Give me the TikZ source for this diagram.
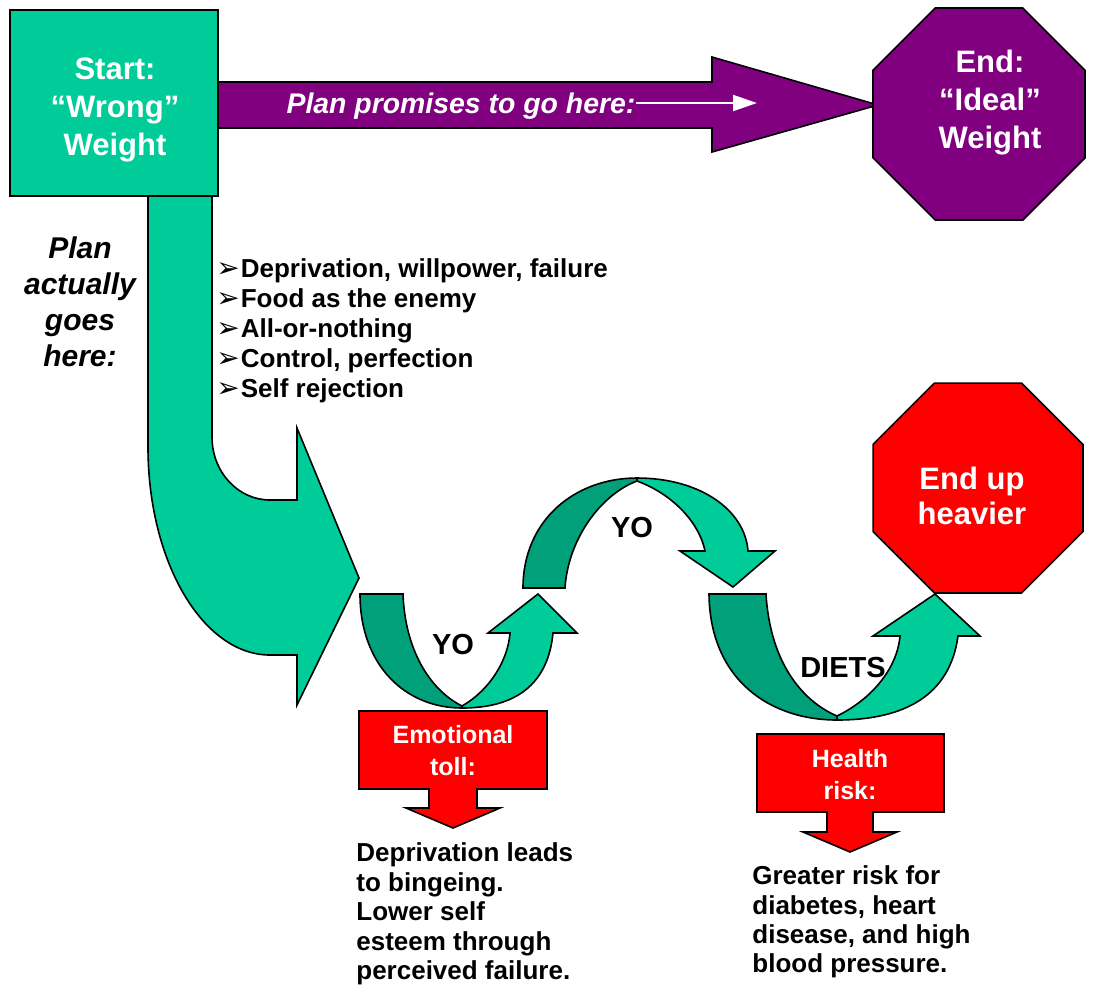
\documentclass[tikz,border=0pt]{standalone}
\usepackage{fontspec}
\setmainfont{Liberation Sans}
\newfontfamily\dingfont{DejaVu Sans}
\usetikzlibrary{arrows.meta,shapes.geometric}
\definecolor{mint}{RGB}{0,204,153}
\definecolor{deepmint}{RGB}{0,160,122}
\definecolor{plum}{RGB}{128,0,128}
\definecolor{alarm}{RGB}{255,0,0}
\newcommand{\pick}{{\dingfont\fontsize{14}{15}\selectfont ➢}\hspace{0.5pt}}

\begin{document}
\begin{tikzpicture}[x=0.5pt,y=-0.5pt,
    outline/.style={draw=black,line width=0.8pt,line join=miter},
    octa/.style={outline,regular polygon,regular polygon sides=8,inner sep=0pt},
    whitetxt/.style={inner sep=0pt,align=center,text=white},
    blacktxt/.style={inner sep=0pt,align=left,text=black},
    headfont/.style={font=\bfseries\fontsize{15.5}{19}\selectfont},
    tollfont/.style={font=\bfseries\fontsize{12.5}{16}\selectfont},
    bodyfont/.style={font=\bfseries\fontsize{13}{14.7}\selectfont},
    yofont/.style={font=\bfseries\fontsize{14.5}{17}\selectfont}]
  \useasboundingbox (0,0) rectangle (1104,987);

  \draw[outline,fill=mint] (148,196) -- (212,196) -- (212,437)
    .. controls (212,472) and (238,500) .. (270,500) -- (297,500) -- (297,428)
    -- (359,578) -- (297,705) -- (297,655) -- (270,655)
    .. controls (203,655) and (148,562) .. (148,447) -- cycle;
  \draw[outline,fill=plum] (218,82) -- (712,82) -- (712,57) -- (878,105)
    -- (712,152) -- (712,128) -- (218,128) -- cycle;
  \draw[outline,fill=mint] (10,10) rectangle (218,196);
  \node[octa,fill=plum,minimum size=114.7pt] (ideal) at (979,114) {};
  \node[octa,fill=alarm,minimum size=113.6pt] (heavier) at (978,488) {};

  \draw[outline,fill=deepmint] (360,594) -- (403,594)
    .. controls (405,650) and (430,690) .. (462,706) -- (462,708)
    .. controls (405,708) and (360,665) .. (360,594) -- cycle;
  \draw[outline,fill=mint] (462,706) .. controls (490,690) and (508,660) .. (510,633)
    -- (488,633) -- (538,594) -- (577,633) -- (553,633)
    .. controls (548,685) and (515,708) .. (462,708) -- cycle;

  \draw[outline,fill=deepmint] (523,588) .. controls (523,520) and (575,478) .. (637,478)
    -- (637,481) .. controls (600,495) and (568,540) .. (565,588) -- cycle;
  \draw[outline,fill=mint] (637,478) .. controls (700,478) and (745,510) .. (748,551)
    -- (775,551) -- (733,587) -- (680,551) -- (705,551)
    .. controls (700,525) and (675,495) .. (637,481) -- cycle;

  \draw[outline,fill=deepmint] (709,594) -- (766,594)
    .. controls (770,660) and (800,700) .. (837,716) -- (837,720)
    .. controls (770,720) and (710,680) .. (709,594) -- cycle;
  \draw[outline,fill=mint] (837,716) .. controls (870,700) and (897,670) .. (900,636)
    -- (873,636) -- (935,594) -- (980,636) -- (958,636)
    .. controls (950,695) and (905,720) .. (837,720) -- cycle;

  \draw[outline,fill=alarm] (359,711) -- (547,711) -- (547,789) -- (477,789)
    -- (477,808) -- (500,808) -- (453,828) -- (406,808) -- (429,808)
    -- (429,789) -- (359,789) -- cycle;
  \draw[outline,fill=alarm] (757,734) -- (944,734) -- (944,812) -- (873,812)
    -- (873,832) -- (897,832) -- (850,852) -- (803,832) -- (827,832)
    -- (827,812) -- (757,812) -- cycle;

  \node[whitetxt,headfont] (start) at (115,110) {Start:\\“Wrong”\\Weight};
  \node[whitetxt,headfont] (idealtxt) at (990,103) {End:\\“Ideal”\\Weight};
  \node[whitetxt,font=\bfseries\fontsize{15.5}{17.5}\selectfont] (heavytxt) at (972,496) {End up\\heavier};
  \node[whitetxt,font=\bfseries\itshape\fontsize{14.2}{17}\selectfont] (promise) at (461,106) {Plan promises to go here:};
  \coordinate (aim) at (757,103);
  \draw[white,line width=1pt,-{Triangle[length=12pt,width=8pt]}] (promise.east |- aim) -- (aim);
  \node[blacktxt,align=center,font=\bfseries\itshape\fontsize{15}{18}\selectfont] (actual) at (80,302) {Plan\\actually\\goes\\here:};

  \foreach \txt [count=\i] in {{Deprivation, willpower, failure},{Food as the enemy},{All-or-nothing},{Control, perfection},{Self rejection}}
    \node[blacktxt,bodyfont,anchor=base west] (cause\i) at (216,247+30*\i) {\pick\txt};

  \node[whitetxt,tollfont] (toll) at (453,751) {Emotional\\toll:};
  \node[whitetxt,tollfont] (risk) at (850,775) {Health\\risk:};
  \node[blacktxt,bodyfont,anchor=west] (tolltxt) at (356,914) {Deprivation leads\\to bingeing.\\Lower self\\esteem through\\perceived failure.};
  \node[blacktxt,bodyfont,anchor=west] (risktxt) at (752,922) {Greater risk for\\diabetes, heart\\disease, and high\\blood pressure.};
  \node[yofont] (yo1) at (453,645) {YO};
  \node[yofont] (yo2) at (632,528) {YO};
  \node[yofont] (diets) at (843,668) {DIETS};
\end{tikzpicture}
\end{document}
